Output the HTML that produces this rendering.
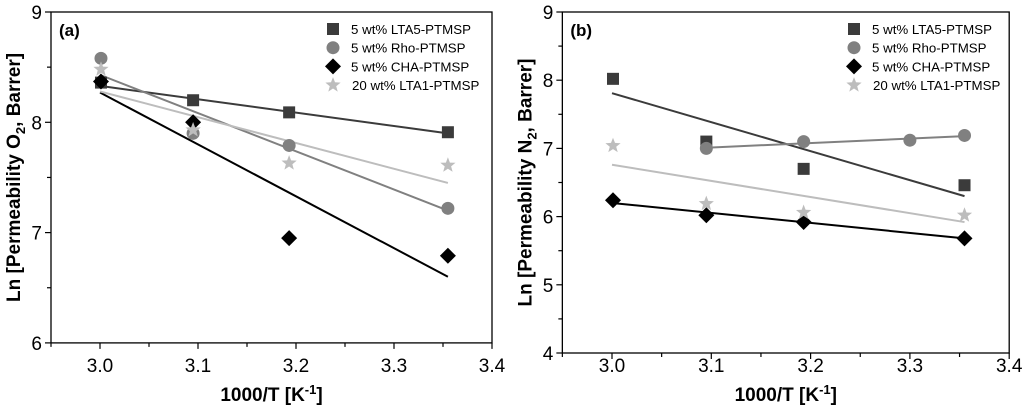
<!DOCTYPE html>
<html><head><meta charset="utf-8"><style>
html,body{margin:0;padding:0;background:#fff;}
svg{display:block;font-family:"Liberation Sans",Arial,sans-serif;}
</style></head><body>
<svg id="chart" width="1024" height="407" viewBox="0 0 1024 407" xmlns="http://www.w3.org/2000/svg"></svg>
<script>
const seriesNames = ["5 wt% LTA5-PTMSP","5 wt% Rho-PTMSP","5 wt% CHA-PTMSP","20 wt% LTA1-PTMSP"];
const colors = ["#3b3b3b","#808080","#000000","#bdbdbd"];
const shapes = ["square","circle","diamond","star"];
const xTicks = [3.0,3.1,3.2,3.3,3.4];
const yTicksA = [6,7,8,9];
const yTicksB = [4,5,6,7,8,9];
// panel a (O2)
const aX = [[3.001,3.095,3.193,3.355],[3.001,3.095,3.193,3.355],[3.001,3.095,3.193,3.355],[3.001,3.095,3.193,3.355]];
const aY = [[8.36,8.20,8.09,7.91],[8.58,7.90,7.79,7.22],[8.37,8.00,6.95,6.79],[8.48,7.93,7.63,7.61]];
const aFitX = [[3.0,3.355],[3.0,3.355],[3.0,3.355],[3.0,3.355]];
const aFitY = [[8.33,7.90],[8.43,7.20],[8.27,6.60],[8.28,7.45]];
// panel b (N2)
const bX = [[3.001,3.095,3.193,3.355],[3.095,3.193,3.300,3.355],[3.001,3.095,3.193,3.355],[3.001,3.095,3.193,3.355]];
const bY = [[8.02,7.10,6.70,6.46],[7.00,7.10,7.12,7.19],[6.24,6.02,5.92,5.68],[7.04,6.19,6.06,6.02]];
const bFitX = [[3.0,3.355],[3.095,3.355],[3.0,3.355],[3.0,3.355]];
const bFitY = [[7.81,6.30],[7.01,7.18],[6.20,5.68],[6.76,5.92]];

const svg = document.getElementById('chart');
const NS = "http://www.w3.org/2000/svg";
function mk(tag, attrs, parent){const e=document.createElementNS(NS,tag);for(const k in attrs)e.setAttribute(k,attrs[k]);(parent||svg).appendChild(e);return e;}

function panel(p){
  const g = mk('g',{});
  
  
  const sx = v => p.x0 + (v-3.0)*p.xs;
  const sy = v => p.top + (p.ymax-v)*p.ys;
  const L = sx(2.95), R = sx(3.4), T = sy(p.ymax), B = sy(p.ymin);
  const frame = mk('rect',{x:L,y:T,width:R-L,height:B-T,fill:'none',stroke:'#000','stroke-width':1.3},g);
  
  
  for(let v=2.95; v<=3.4001; v+=0.05){
    const major = Math.abs(Math.round(v*10)-v*10)<1e-6;
    mk('line',{x1:sx(v),x2:sx(v),y1:B,y2:B+(major?6:4),stroke:'#000','stroke-width':1.2},g);
  }
  xTicks.forEach(v=>{
    const t = mk('text',{x:sx(v),y:372,'text-anchor':'middle','font-size':19,fill:'#000'},g);
    t.textContent = v.toFixed(1);
    
    
  });
  for(let v=p.ymin; v<=p.ymax+1e-6; v+=0.5){
    const major = Math.abs(v-Math.round(v))<1e-6;
    mk('line',{x1:L,x2:L-(major?6:4),y1:sy(v),y2:sy(v),stroke:'#000','stroke-width':1.2},g);
  }
  p.yTicks.forEach(v=>{
    const t = mk('text',{x:L-9,y:sy(v)+7,'text-anchor':'end','font-size':19,fill:'#000'},g);
    t.textContent = v;
    
    
  });
  const xt = mk('text',{x:(L+R)/2,y:401,'text-anchor':'middle','font-size':19,'font-weight':'bold',fill:'#000'},g);
  xt.innerHTML = '1000/T [K<tspan dy="-7" font-size="13">-1</tspan><tspan dy="7">]</tspan>';
  
  
  const yt = mk('text',{transform:`translate(${L-31},${(T+B)/2}) rotate(-90)`,'text-anchor':'middle','font-size':19,'font-weight':'bold',fill:'#000'},g);
  yt.innerHTML = `Ln [Permeability ${p.gas}<tspan dy="5" font-size="13">2</tspan><tspan dy="-5">, Barrer]</tspan>`;
  
  
  const lab = mk('text',{x:L+8,y:T+24,'font-size':17,'font-weight':'bold',fill:'#000'},g);
  lab.textContent = p.label;
  
  
  for(let s=0;s<4;s++){
    const ln = mk('line',{x1:sx(p.fx[s][0]),y1:sy(p.fy[s][0]),x2:sx(p.fx[s][1]),y2:sy(p.fy[s][1]),stroke:colors[s],'stroke-width':2},g);
    
    
  }
  for(let s=0;s<4;s++){
    for(let i=0;i<p.xs_[s].length;i++){
      const m = marker(g, shapes[s], sx(p.xs_[s][i]), sy(p.ys_[s][i]), colors[s]);
      
      
    }
  }
  for(let s=0;s<4;s++){
    const yy = T+17+s*18.7;
    const m = marker(g, shapes[s], p.legX, yy, colors[s]);
    
    
    const t = mk('text',{x:p.legX+(s==3?19:18),y:yy+5,'font-size':13.3,fill:'#000'},g);
    t.textContent = seriesNames[s];
    
    
  }
}
function marker(g, shape, x, y, c){
  if(shape==='square') return mk('rect',{x:x-6,y:y-6,width:12,height:12,fill:c},g);
  if(shape==='circle') return mk('circle',{cx:x,cy:y,r:6.5,fill:c},g);
  if(shape==='diamond') return mk('polygon',{points:`${x},${y-8} ${x+8},${y} ${x},${y+8} ${x-8},${y}`,fill:c},g);
  let pts=[];for(let k=0;k<10;k++){const r=k%2?3.4:8;const a=-Math.PI/2+k*Math.PI/5;pts.push((x+r*Math.cos(a)).toFixed(1)+','+(y+r*Math.sin(a)).toFixed(1));}
  return mk('polygon',{points:pts.join(' '),fill:c},g);
}
panel({name:'panel-a-o2',x0:100,xs:980,top:12,ymax:9,ymin:6,ys:110.3,yTicks:yTicksA,gas:'O',label:'(a)',fx:aFitX,fy:aFitY,xs_:aX,ys_:aY,legX:333});
panel({name:'panel-b-n2',x0:612,xs:993,top:12,ymax:9,ymin:4,ys:68.2,yTicks:yTicksB,gas:'N',label:'(b)',fx:bFitX,fy:bFitY,xs_:bX,ys_:bY,legX:854});
</script>
</body></html>
